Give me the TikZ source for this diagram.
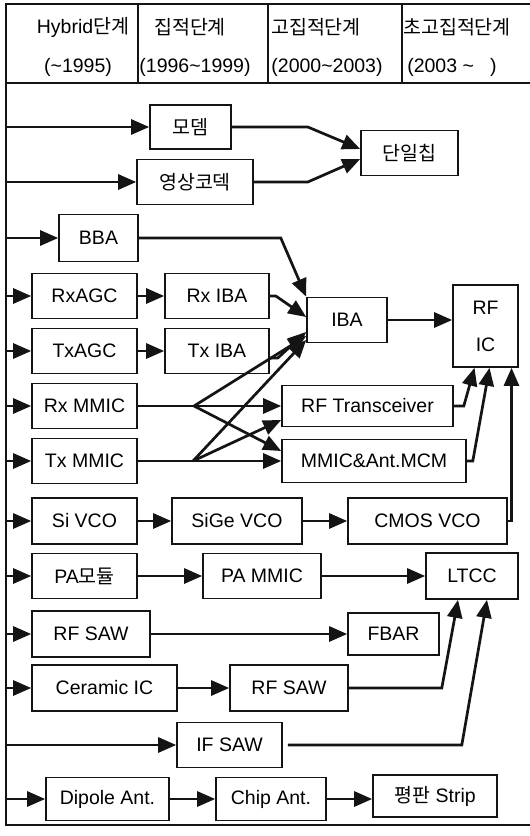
\documentclass[tikz,border=0pt]{standalone}
\usepackage{fontspec}
\setmainfont{Liberation Sans}
\newfontfamily\kr{Noto Sans CJK KR}
\usepackage{tikz}
\usetikzlibrary{arrows.meta}
\definecolor{figline}{RGB}{20,20,20}
\newcommand{\fsz}{\fontsize{19.5}{22}\selectfont}
\tikzset{
  bx/.style ={draw=figline, line width=1.6pt, inner sep=0pt, minimum height=45pt, font=\fsz},
  hd/.style ={font=\fsz, inner sep=1pt},
  ln/.style ={draw=figline, line width=2.7pt},
  ar/.style ={ln, -{Triangle[length=18pt,width=15pt]}},
  fr/.style ={draw=figline, line width=1.8pt},
}

\begin{document}
\begin{tikzpicture}[x=1pt,y=-1pt]
  \fill[white] (0,0) rectangle (530,836);
  \useasboundingbox (0,0) rectangle (530,836);
  % frame and header
  \draw[fr] (530,4) -- (6,4) -- (6,825) -- (530,825);
  \draw[fr] (6,83) -- (530,83);
  \foreach \x in {138,268,402} \draw[fr] (\x,4) -- (\x,83);
  \node[hd] (h1a) at (83,27) {Hybrid{\kr 단계}};
  \node[hd] (h1b) at (78,67) {(\textasciitilde1995)};
  \node[hd] (h2a) at (190,27) {\kr 집적단계};
  \node[hd] (h2b) at (195,67) {(1996\textasciitilde1999)};
  \node[hd] (h3a) at (316,27) {\kr 고집적단계};
  \node[hd] (h3b) at (327,67) {(2000\textasciitilde2003)};
  \node[hd] (h4a) at (457,27) {\kr 초고집적단계};
  \node[hd] (h4b) at (452,67) {(2003 \textasciitilde\ \ \ )};
  \coordinate (lft) at (6,0);

  % boxes
  \node[bx, minimum width=81pt, minimum height=44pt] (modem) at (190.5,127) {\kr 모뎀};
  \node[bx, minimum width=116pt] (codec) at (195,182) {\kr 영상코덱};
  \node[bx, minimum width=97pt] (chip) at (409.5,153) {\kr 단일칩};
  \node[bx, minimum width=79pt, minimum height=47pt] (BBA) at (98.5,238) {BBA};
  \node[bx, minimum width=105pt] (RxAGC) at (84.5,296) {RxAGC};
  \node[bx, minimum width=104pt] (RxIBA) at (217,296) {Rx IBA};
  \node[bx, minimum width=105pt] (TxAGC) at (84.5,351) {TxAGC};
  \node[bx, minimum width=104pt] (TxIBA) at (217,351) {Tx IBA};
  \node[bx, minimum width=80pt] (IBA) at (347,320) {IBA};
  \node[bx, minimum width=65pt, minimum height=82pt, align=center] (RFIC) at (485.5,326) {RF\\[15pt]IC};
  \node[bx, minimum width=105pt] (RxMMIC) at (84.5,406) {Rx MMIC};
  \node[bx, minimum width=105pt] (TxMMIC) at (84.5,461) {Tx MMIC};
  \node[bx, minimum width=171pt, minimum height=41pt] (RFTrans) at (367.5,406) {RF Transceiver};
  \node[bx, minimum width=184pt, minimum height=43pt] (MMICAnt) at (374,461) {MMIC\&Ant.MCM};
  \node[bx, minimum width=105pt, minimum height=46pt] (SiVCO) at (84.5,521) {Si VCO};
  \node[bx, minimum width=130pt, minimum height=46pt] (SiGe) at (237,521) {SiGe VCO};
  \node[bx, minimum width=159pt, minimum height=46pt] (CMOS) at (427.5,521) {CMOS VCO};
  \node[bx, minimum width=105pt] (PAmod) at (84.5,576) {PA{\kr 모듈}};
  \node[bx, minimum width=118pt] (PAMMIC) at (262,576) {PA MMIC};
  \node[bx, minimum width=92pt, minimum height=46pt] (LTCC) at (472,576) {LTCC};
  \node[bx, minimum width=118pt, minimum height=46pt] (RFSAW) at (91,634) {RF SAW};
  \node[bx, minimum width=91pt, minimum height=42pt] (FBAR) at (393.5,634) {FBAR};
  \node[bx, minimum width=145pt, minimum height=46pt] (Ceramic) at (104.5,688) {Ceramic IC};
  \node[bx, minimum width=118pt, minimum height=46pt] (RFSAW2) at (289,688) {RF SAW};
  \node[bx, minimum width=105pt] (IFSAW) at (229.5,745) {IF SAW};
  \node[bx, minimum width=123pt, minimum height=43pt] (Dipole) at (107.5,799) {Dipole Ant.};
  \node[bx, minimum width=110pt, minimum height=43pt] (ChipAnt) at (271,799) {Chip Ant.};
  \node[bx, minimum width=124pt, minimum height=42pt] (Flat) at (435,796) {{\kr 평판} Strip};

  % arrows from the left edge
  \foreach \n in {modem,codec,BBA,RxAGC,TxAGC,RxMMIC,TxMMIC,SiVCO,PAmod,RFSAW,Ceramic,IFSAW,Dipole}
    \draw[ar] (\n -| lft) -- (\n);
  % straight steps in a row
  \foreach \a/\b in {RxAGC/RxIBA,TxAGC/TxIBA,SiVCO/SiGe,SiGe/CMOS,PAmod/PAMMIC,PAMMIC/LTCC,RFSAW/FBAR,Ceramic/RFSAW2,Dipole/ChipAnt,ChipAnt/Flat,IBA/RFIC}
    \draw[ar] (\a) -- (\a -| \b.west);

  % into single chip
  \draw[ar] (modem.east) -- ++(76,0) -- ([yshift=4pt]chip.west);
  \draw[ar] (codec.east) -- ++(54,0) -- ([yshift=-6pt]chip.west);
  % into IBA
  \draw[ar] (BBA.east) -- ++(142,0) -- (IBA.north west);
  \draw[ar] (RxIBA.east) -- ++(6,0) -- ([yshift=3pt]IBA.west);
  \draw[ar] ([yshift=-7pt]TxIBA.east) -- ++(8,0) -- ([yshift=-12pt]IBA.west);
  % MMIC crossing
  \coordinate (rb) at (194,406);
  \coordinate (tb) at (193,461);
  \draw[ln] (RxMMIC.east) -- (rb);
  \draw[ln] (TxMMIC.east) -- (tb);
  \draw[ar] (rb) -- (rb -| RFTrans.west);
  \draw[ar] (rb) -- ([yshift=10pt]MMICAnt.west);
  \draw[ar] (rb) -- ([yshift=-16pt]IBA.west);
  \draw[ar] (tb) -- (tb -| MMICAnt.west);
  \draw[ar] (tb) -- ([yshift=-14pt]RFTrans.west);
  \draw[ar] (tb) -- ([yshift=-20pt]IBA.west);
  % into RF IC
  \draw[ar] (RFTrans.east) -- ++(10,0) -- ([xshift=-11pt]RFIC.south);
  \draw[ar] (MMICAnt.east) -- ++(6,0) -- ([xshift=4pt]RFIC.south);
  \draw[ar] (CMOS.east) -| ([xshift=26pt]RFIC.south);
  % into LTCC
  \draw[ar] (RFSAW2.east) -- ++(93,0) -- ([xshift=-14pt]LTCC.south);
  \draw[ar] ([xshift=5pt]IFSAW.east) -- ++(174,0) -- ([xshift=15pt]LTCC.south);
\end{tikzpicture}
\end{document}
